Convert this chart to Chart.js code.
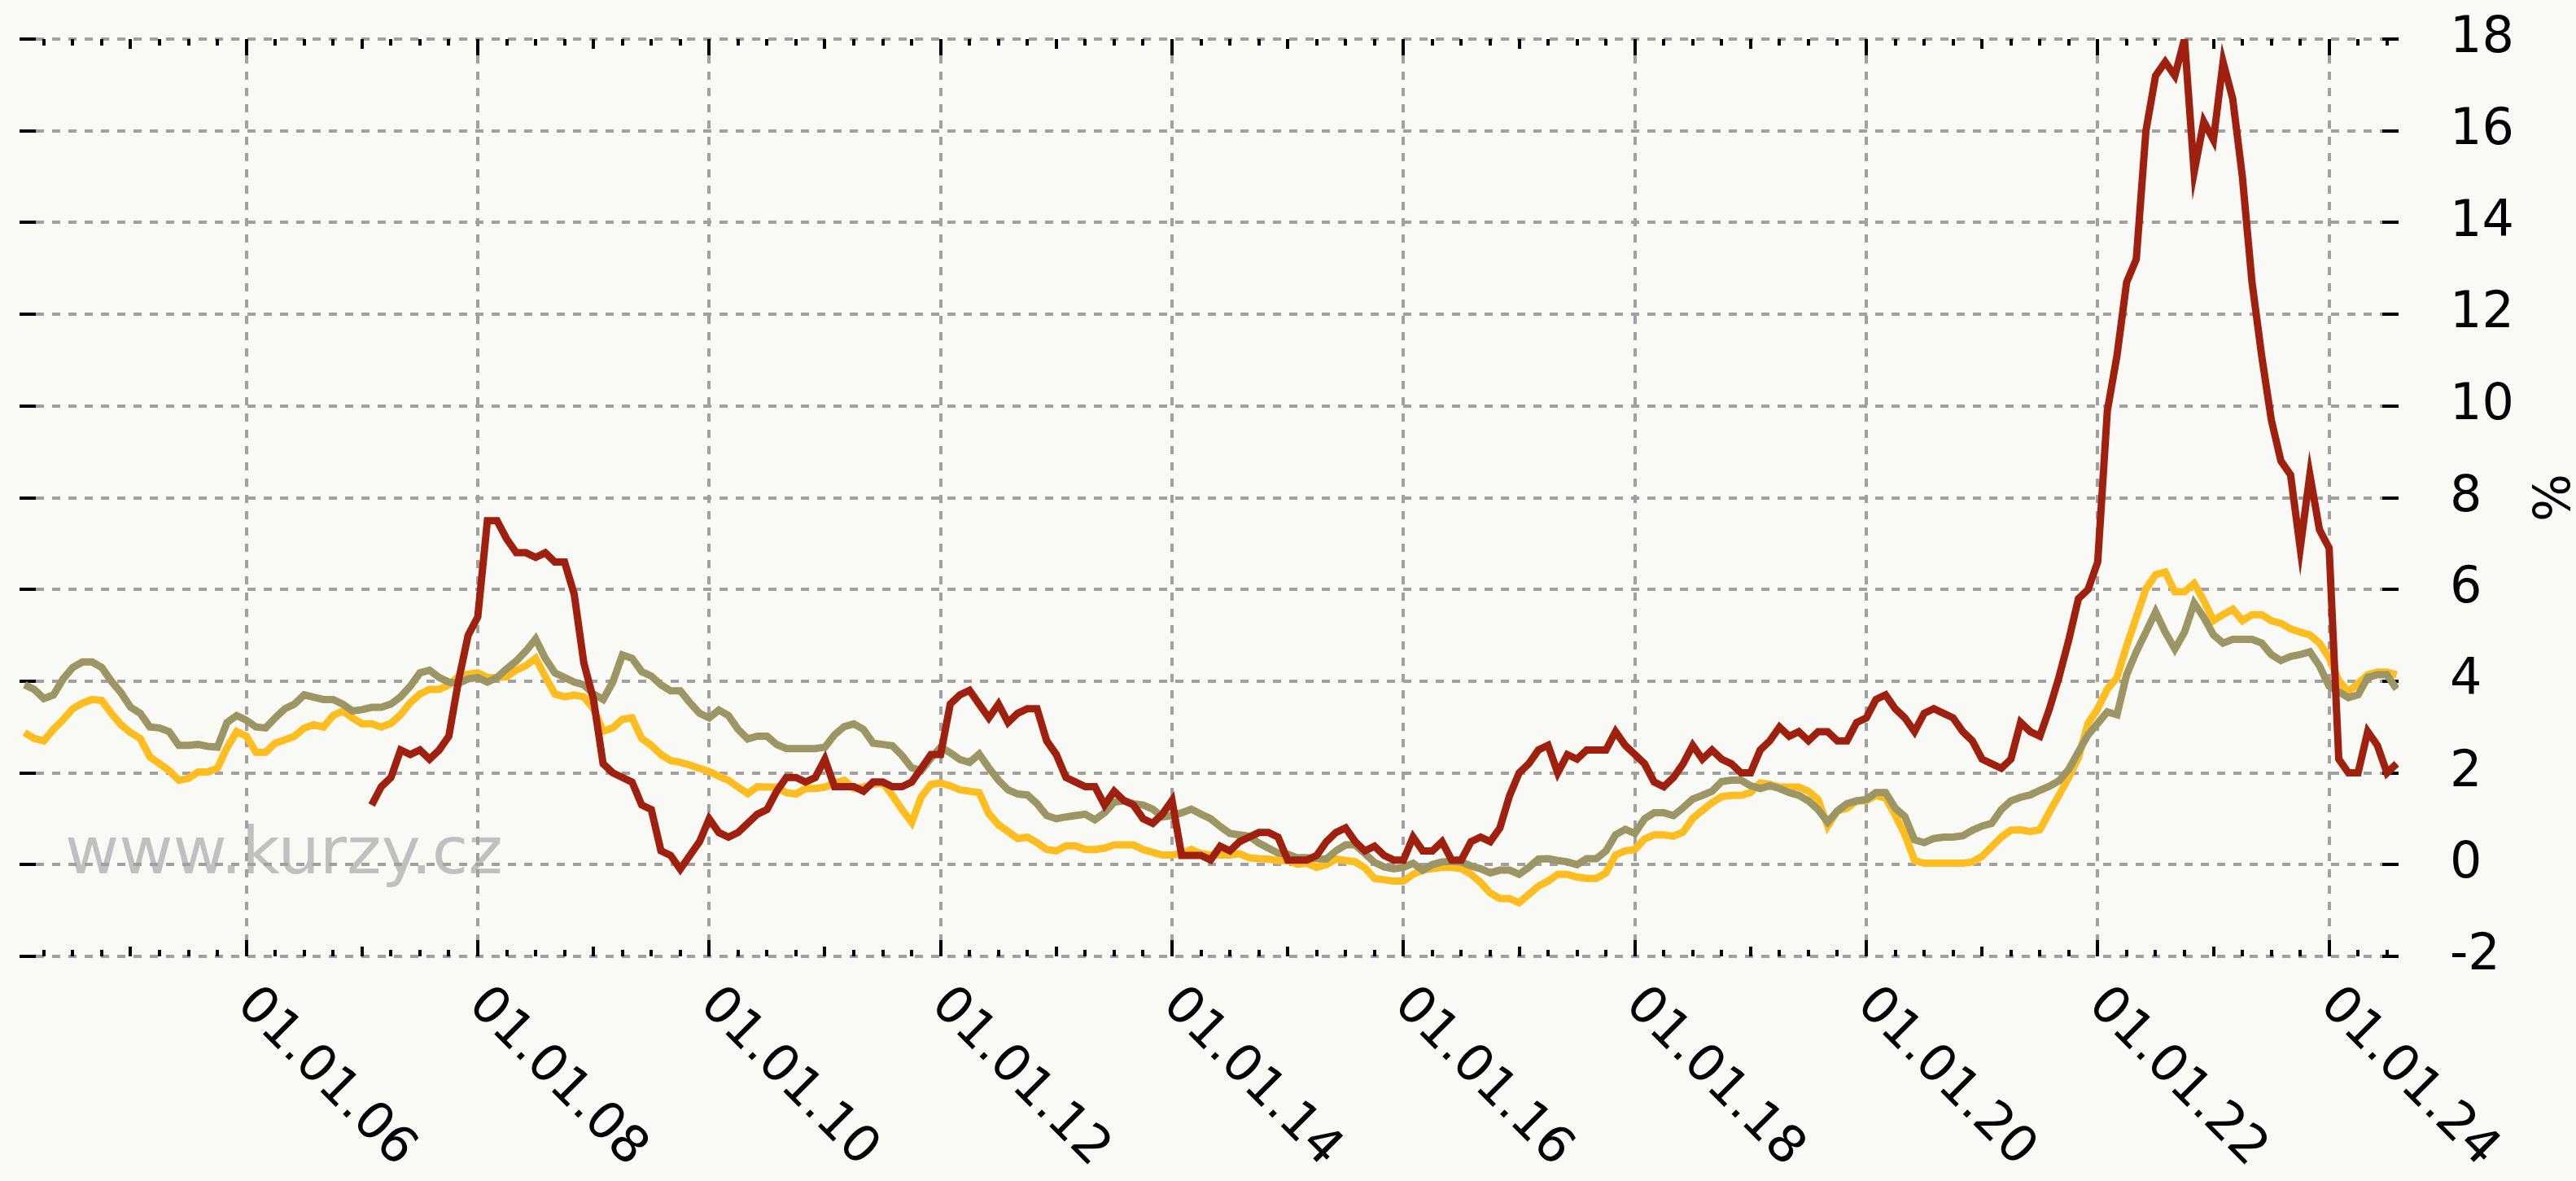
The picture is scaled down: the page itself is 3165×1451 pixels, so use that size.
<!DOCTYPE html>
<html>
<head>
<meta charset="utf-8">
<script src="https://cdn.jsdelivr.net/npm/chart.js@4.4.1/dist/chart.umd.min.js"></script>
<style>
  html, body { margin: 0; padding: 0; background: #f9faf5; }
</style>
</head>
<body>
<canvas id="plot-inflace" width="3165" height="1451"></canvas>
<script>
// monthly values, first value = January of the start year
const yieldStartYear = 2004;
const yellowValues = [
  2.88, 2.75, 2.7, 2.95, 3.16, 3.4, 3.52, 3.6, 3.58, 3.3, 3.05, 2.88,
  2.75, 2.35, 2.2, 2.05, 1.84, 1.88, 2.02, 2.02, 2.1, 2.55, 2.9, 2.8,
  2.45, 2.45, 2.65, 2.72, 2.8, 2.98, 3.05, 3.0, 3.25, 3.35, 3.2, 3.07,
  3.07, 3.0, 3.08, 3.27, 3.53, 3.72, 3.82, 3.82, 3.92, 4.1, 4.15, 4.18,
  4.08, 4.08, 4.1, 4.24, 4.34, 4.5, 4.1, 3.72, 3.66, 3.7, 3.66, 3.4,
  2.91, 2.98, 3.17, 3.2, 2.75, 2.6, 2.4, 2.27, 2.23, 2.17, 2.1, 2.03,
  1.93, 1.84, 1.69, 1.55, 1.7, 1.69, 1.69, 1.57, 1.54, 1.66, 1.66, 1.69,
  1.78, 1.84, 1.66, 1.69, 1.75, 1.78, 1.51, 1.2, 0.92, 1.48, 1.75, 1.78,
  1.72, 1.63, 1.6, 1.57, 1.11, 0.87, 0.72, 0.57, 0.6, 0.48, 0.33, 0.3,
  0.41, 0.41, 0.33, 0.33, 0.36, 0.43, 0.43, 0.43, 0.33, 0.27, 0.21, 0.21,
  0.24, 0.33, 0.24, 0.21, 0.21, 0.21, 0.24, 0.15, 0.13, 0.12, 0.09, 0.09,
  0.01, 0.03, -0.06, 0.0, 0.12, 0.09, 0.06, -0.07, -0.3, -0.33, -0.36, -0.36,
  -0.21, -0.12, -0.09, -0.06, -0.06, -0.09, -0.21, -0.39, -0.62, -0.74, -0.74, -0.83,
  -0.65, -0.47, -0.36, -0.21, -0.21, -0.27, -0.3, -0.3, -0.18, 0.21, 0.3, 0.33,
  0.56, 0.65, 0.65, 0.62, 0.71, 1.01, 1.18, 1.35, 1.48, 1.51, 1.51, 1.57,
  1.78, 1.75, 1.69, 1.69, 1.69, 1.6, 1.42, 0.84, 1.17, 1.23, 1.39, 1.39,
  1.51, 1.45, 1.08, 0.66, 0.09, 0.03, 0.03, 0.03, 0.03, 0.03, 0.06, 0.18,
  0.39, 0.6, 0.75, 0.76, 0.72, 0.76, 1.15, 1.52, 1.9, 2.33, 3.08, 3.4,
  3.83, 4.08, 4.77, 5.39, 6.01, 6.32, 6.38, 5.95, 5.95, 6.13, 5.76, 5.32,
  5.45, 5.57, 5.32, 5.45, 5.45, 5.32, 5.26, 5.14, 5.07, 5.01, 4.83, 4.51,
  4.01, 3.77, 3.95, 4.14, 4.2, 4.2, 4.14
];
const oliveValues = [
  3.92, 3.82, 3.62, 3.7, 4.05, 4.3, 4.42, 4.42, 4.3, 4.0, 3.75, 3.43,
  3.3, 3.0, 2.98, 2.9, 2.6, 2.6, 2.62, 2.58, 2.56, 3.1, 3.25, 3.15,
  3.0, 2.98, 3.2, 3.4, 3.5, 3.7, 3.65, 3.6, 3.6, 3.5, 3.35, 3.38,
  3.43, 3.43, 3.5, 3.66, 3.89, 4.18, 4.24, 4.08, 3.98, 3.95, 4.05, 4.08,
  3.98, 4.08, 4.27, 4.44, 4.66, 4.92, 4.5, 4.18, 4.08, 3.98, 3.92, 3.72,
  3.6, 3.98, 4.57, 4.5, 4.21, 4.11, 3.92, 3.79, 3.79, 3.53, 3.3, 3.2,
  3.37, 3.25, 2.95, 2.74, 2.8, 2.8, 2.62, 2.53, 2.53, 2.53, 2.53, 2.56,
  2.83, 3.01, 3.07, 2.95, 2.65, 2.62, 2.59, 2.38, 2.11, 2.05, 2.32, 2.56,
  2.44, 2.29, 2.23, 2.41, 2.11, 1.84, 1.63, 1.54, 1.52, 1.33, 1.07, 1.0,
  1.04, 1.07, 1.1, 0.98, 1.13, 1.36, 1.39, 1.33, 1.3, 1.21, 1.04, 1.07,
  1.13, 1.21, 1.1, 1.0, 0.83, 0.68, 0.65, 0.62, 0.47, 0.36, 0.25, 0.23,
  0.15, 0.15, 0.13, 0.12, 0.3, 0.43, 0.43, 0.24, 0.05, -0.05, -0.09, -0.06,
  0.03, -0.12, 0.0, 0.06, 0.07, 0.06, -0.03, -0.09, -0.18, -0.12, -0.12, -0.21,
  -0.06, 0.12, 0.13, 0.09, 0.06, 0.0, 0.13, 0.13, 0.3, 0.65, 0.77, 0.68,
  1.0, 1.13, 1.13, 1.07, 1.24, 1.43, 1.51, 1.6, 1.81, 1.84, 1.84, 1.72,
  1.66, 1.72, 1.66, 1.57, 1.51, 1.39, 1.2, 0.93, 1.17, 1.33, 1.39, 1.42,
  1.57, 1.57, 1.23, 1.05, 0.54, 0.48, 0.57, 0.6, 0.6, 0.63, 0.75, 0.84,
  0.9, 1.2, 1.39, 1.47, 1.52, 1.62, 1.71, 1.83, 2.08, 2.46, 2.83, 3.08,
  3.33, 3.27, 4.14, 4.64, 5.07, 5.51, 5.07, 4.7, 5.07, 5.7, 5.39, 5.01,
  4.83, 4.91, 4.91, 4.91, 4.83, 4.58, 4.45, 4.54, 4.58, 4.64, 4.33, 3.89,
  3.77, 3.64, 3.7, 4.08, 4.14, 4.14, 3.83
];
const inflationStartYear = 2007;
const redValues = [
  1.3, 1.7, 1.9, 2.5, 2.4, 2.5, 2.3, 2.5, 2.8, 4.0, 5.0, 5.4,
  7.5, 7.5, 7.1, 6.8, 6.8, 6.7, 6.8, 6.6, 6.6, 5.9, 4.4, 3.6,
  2.2, 2.0, 1.9, 1.8, 1.3, 1.2, 0.3, 0.2, -0.1, 0.2, 0.5, 1.0,
  0.7, 0.6, 0.7, 0.9, 1.1, 1.2, 1.6, 1.9, 1.9, 1.8, 1.9, 2.3,
  1.7, 1.7, 1.7, 1.6, 1.8, 1.8, 1.7, 1.7, 1.8, 2.1, 2.4, 2.4,
  3.5, 3.7, 3.8, 3.5, 3.2, 3.5, 3.1, 3.3, 3.4, 3.4, 2.7, 2.4,
  1.9, 1.8, 1.7, 1.7, 1.3, 1.6, 1.4, 1.3, 1.0, 0.9, 1.1, 1.4,
  0.2, 0.2, 0.2, 0.1, 0.4, 0.3, 0.5, 0.6, 0.7, 0.7, 0.6, 0.1,
  0.1, 0.1, 0.2, 0.5, 0.7, 0.8, 0.5, 0.3, 0.4, 0.2, 0.1, 0.1,
  0.6, 0.3, 0.3, 0.5, 0.1, 0.1, 0.5, 0.6, 0.5, 0.8, 1.5, 2.0,
  2.2, 2.5, 2.6, 2.0, 2.4, 2.3, 2.5, 2.5, 2.5, 2.9, 2.6, 2.4,
  2.2, 1.8, 1.7, 1.9, 2.2, 2.6, 2.3, 2.5, 2.3, 2.2, 2.0, 2.0,
  2.5, 2.7, 3.0, 2.8, 2.9, 2.7, 2.9, 2.9, 2.7, 2.7, 3.1, 3.2,
  3.6, 3.7, 3.4, 3.2, 2.9, 3.3, 3.4, 3.3, 3.2, 2.9, 2.7, 2.3,
  2.2, 2.1, 2.3, 3.1, 2.9, 2.8, 3.4, 4.1, 4.9, 5.8, 6.0, 6.6,
  9.9, 11.1, 12.7, 13.2, 16.0, 17.2, 17.5, 17.2, 18.0, 15.1, 16.2, 15.8,
  17.5, 16.7, 15.0, 12.7, 11.1, 9.7, 8.8, 8.5, 6.9, 8.5, 7.3, 6.9,
  2.3, 2.0, 2.0, 2.9, 2.6, 2.0, 2.2
];
const yTicks = [-2, 0, 2, 4, 6, 8, 10, 12, 14, 16, 18];
const xMin = 2004.04;
const xMax = 2024.6;

const gridGrey = "#a0a0a0";
const tickFont = "DejaVu Sans";

// month i of the series is dated at the end of that month
function toPoints(startYear, values) {
  return values.map((v, i) => ({ x: startYear + (i + 1) / 12, y: v }));
}

function quarterTicks() {
  let ticks = [];
  for (let k = Math.ceil(xMin * 4); k <= Math.floor(xMax * 4); k++) {
    ticks.push({ value: k / 4 });
  }
  return ticks;
}

function isMajor(value) {
  return Math.abs(value / 2 - Math.round(value / 2)) < 1e-6;
}

const chartDecor = {
  id: "chartDecor",
  beforeDraw(chart) {
    const ctx = chart.ctx;
    ctx.save();
    ctx.fillStyle = "#f9faf5";
    ctx.fillRect(0, 0, chart.width, chart.height);
    ctx.fillStyle = "#c0c0c0";
    ctx.font = "81px '" + tickFont + "'";
    ctx.textBaseline = "alphabetic";
    ctx.textAlign = "left";
    ctx.fillText("www.kurzy.cz", 80, 1073);
    ctx.restore();
  },
  beforeDatasetsDraw(chart) {
    const ctx = chart.ctx;
    const area = chart.chartArea;
    const x = chart.scales.x;
    const y = chart.scales.y;
    ctx.save();
    ctx.strokeStyle = "#000";
    ctx.lineWidth = 4;
    ctx.beginPath();
    x.ticks.forEach((t) => {
      const px = Math.round(x.getPixelForValue(t.value));
      let len = 8;
      if (isMajor(t.value)) len = 20;
      else if (Number.isInteger(t.value)) len = 12;
      ctx.moveTo(px, area.bottom);
      ctx.lineTo(px, area.bottom - len);
      ctx.moveTo(px, area.top);
      ctx.lineTo(px, area.top + len);
    });
    y.ticks.forEach((t) => {
      const py = Math.round(y.getPixelForValue(t.value));
      ctx.moveTo(area.left, py);
      ctx.lineTo(area.left + 20, py);
      ctx.moveTo(area.right, py);
      ctx.lineTo(area.right - 20, py);
    });
    ctx.stroke();
    ctx.restore();
  },
  afterDraw(chart) {
    const ctx = chart.ctx;
    const area = chart.chartArea;
    const x = chart.scales.x;
    ctx.save();
    ctx.fillStyle = "#000";
    ctx.font = "63px '" + tickFont + "'";
    ctx.textAlign = "left";
    ctx.textBaseline = "middle";
    x.ticks.forEach((t) => {
      if (!isMajor(t.value)) return;
      const label = "01.01." + String(Math.round(t.value)).slice(2);
      ctx.save();
      ctx.translate(x.getPixelForValue(t.value) - 2, area.bottom + 50);
      ctx.rotate(Math.PI / 4);
      ctx.fillText(label, 0, 0);
      ctx.restore();
    });
    ctx.restore();
  },
};

function makeChart() {
  let canvas = document.getElementById("plot-inflace");
  const myChart = new Chart(canvas, {
    type: "line",
    data: {
      datasets: [
        {
          label: "Inflace",
          data: toPoints(inflationStartYear, redValues),
          borderColor: "#a0200f",
          backgroundColor: "#a0200f",
          borderWidth: 9,
          pointRadius: 0,
        },
        {
          label: "Olive",
          data: toPoints(yieldStartYear, oliveValues),
          borderColor: "#9c9664",
          backgroundColor: "#9c9664",
          borderWidth: 9,
          pointRadius: 0,
        },
        {
          label: "Yellow",
          data: toPoints(yieldStartYear, yellowValues),
          borderColor: "#ffbd20",
          backgroundColor: "#ffbd20",
          borderWidth: 9,
          pointRadius: 0,
        },
      ],
    },
    options: {
      responsive: false,
      devicePixelRatio: 1,
      animation: false,
      layout: { padding: { left: 24, top: 48, right: 0, bottom: 276 } },
      plugins: { legend: { display: false }, tooltip: { enabled: false } },
      scales: {
        x: {
          type: "linear",
          min: xMin,
          max: xMax,
          afterBuildTicks: (scale) => { scale.ticks = quarterTicks(); },
          afterFit: (scale) => { scale.height = 0; },
          ticks: { display: false },
          grid: {
            color: (c) => (c.tick && isMajor(c.tick.value) ? gridGrey : "transparent"),
            lineWidth: 4,
            drawTicks: false,
          },
          border: { display: false, dash: [10, 10] },
        },
        y: {
          position: "right",
          min: -2,
          max: 18,
          afterBuildTicks: (scale) => { scale.ticks = yTicks.map((v) => ({ value: v })); },
          afterFit: (scale) => {
            scale.width = 218;
            scale.paddingTop = 0;
            scale.paddingBottom = 0;
          },
          ticks: {
            font: { family: tickFont, size: 62 },
            color: "#000",
            padding: 63,
            crossAlign: "near",
          },
          title: {
            display: true,
            text: "%",
            color: "#000",
            font: { family: tickFont, size: 62 },
            padding: 0,
          },
          grid: { color: gridGrey, lineWidth: 4, drawTicks: false },
          border: { display: false, dash: [10, 10] },
        },
      },
    },
    plugins: [chartDecor],
  });
}

makeChart();
</script>
</body>
</html>
